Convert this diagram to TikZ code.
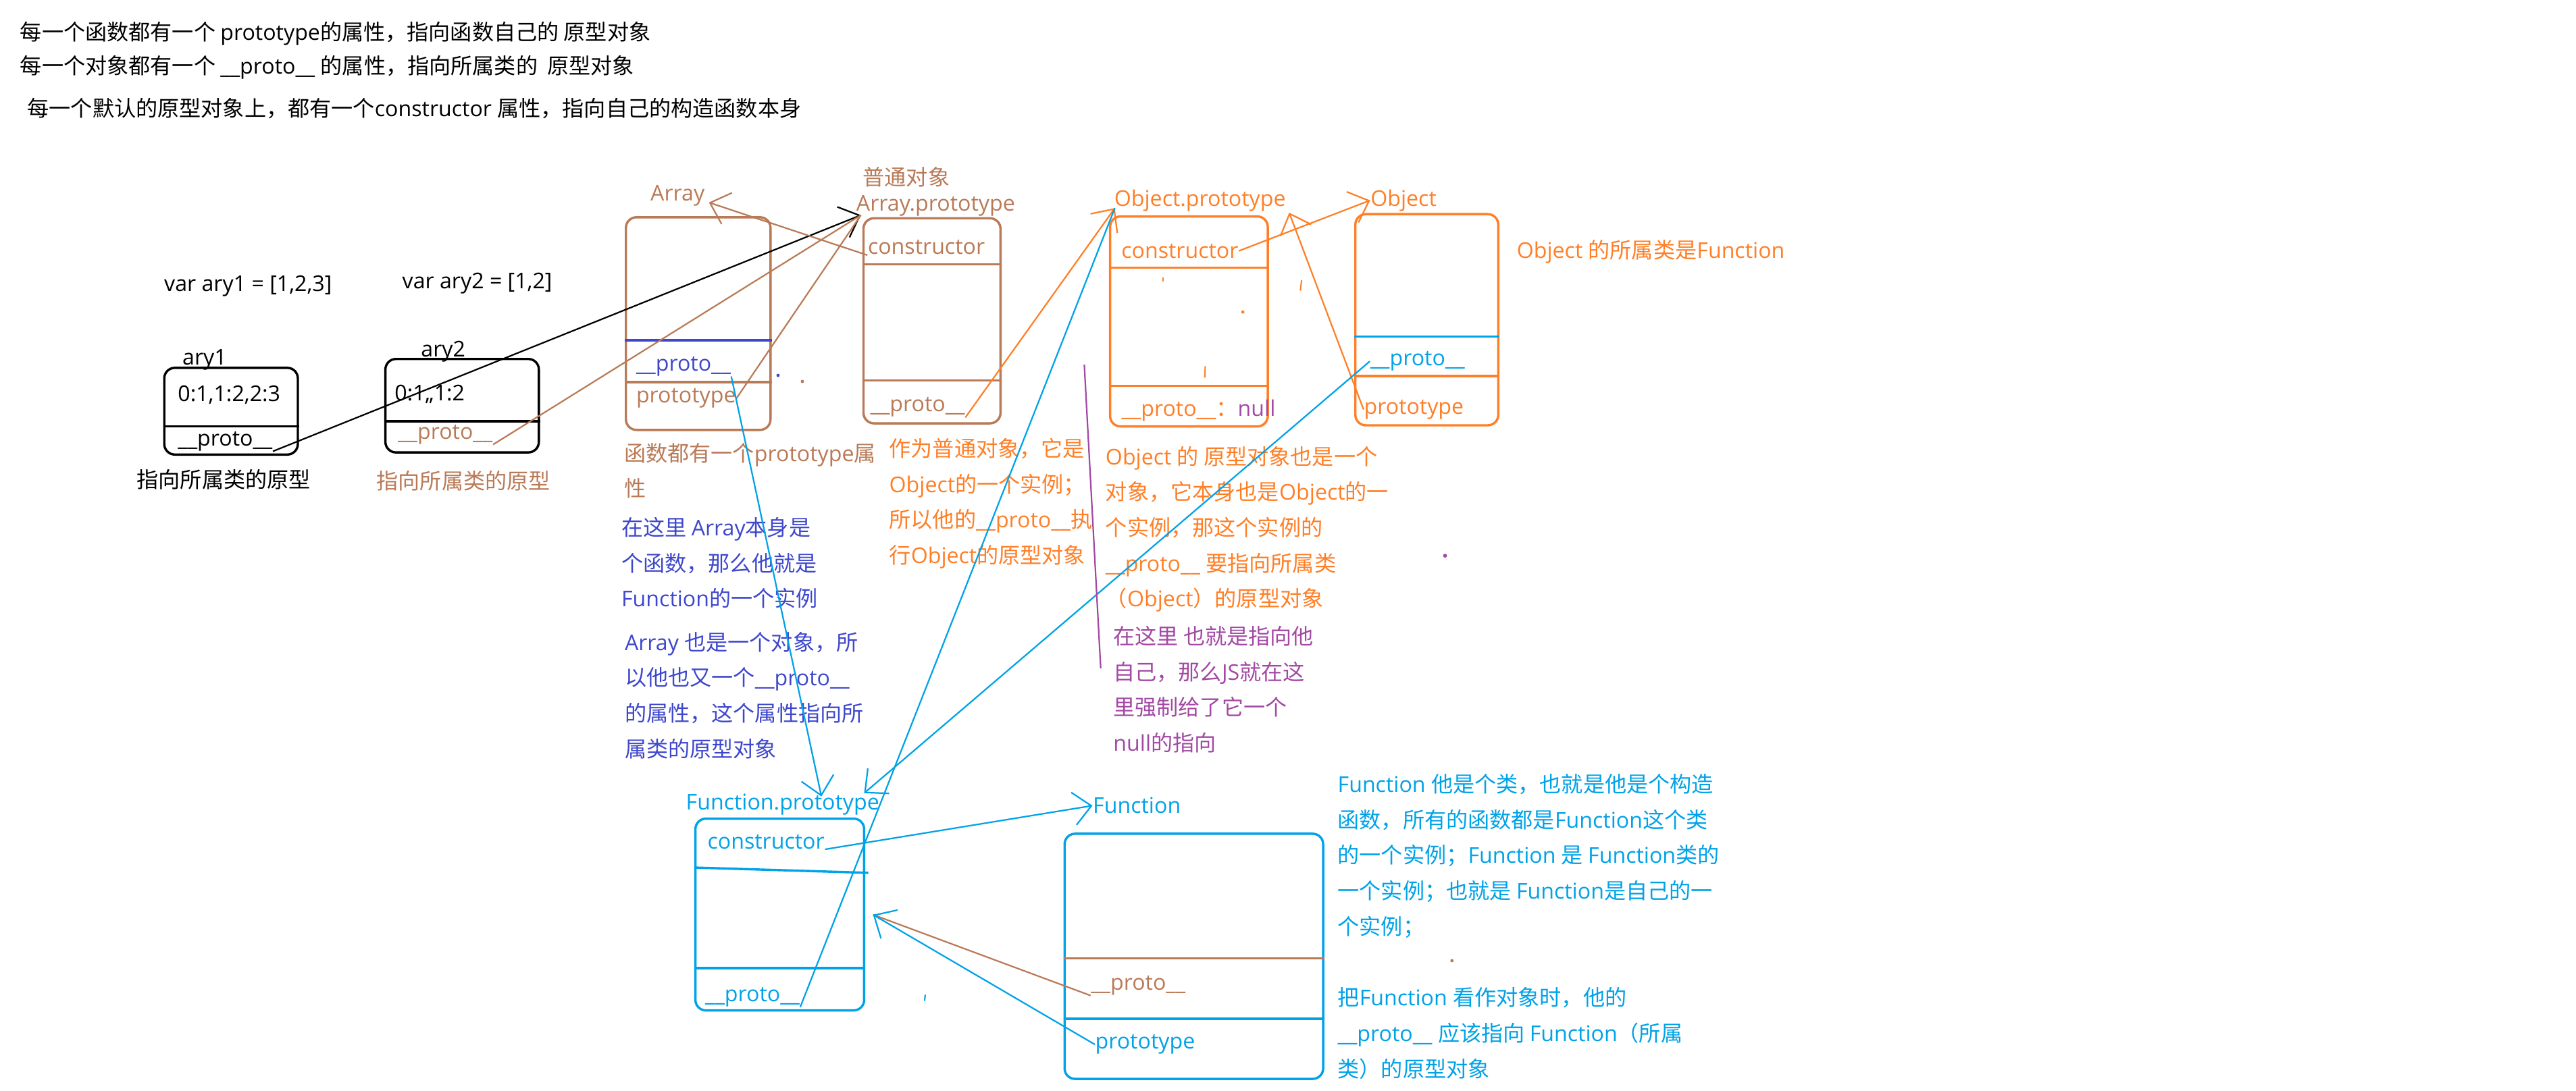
\documentclass[tikz,border=0pt]{standalone}
\usepackage{fontspec}
\setmainfont{Open Sans}
\newfontfamily\cjkfont{Noto Sans CJK SC}
\usepackage{tikz}
\usetikzlibrary{arrows.meta, fit}
\usepackage{xcolor}
\definecolor{Brn}{HTML}{B97A57}
\definecolor{Org}{HTML}{FF7F27}
\definecolor{Blu}{HTML}{00A2E8}
\definecolor{Ind}{HTML}{3F48CC}
\definecolor{Pur}{HTML}{A349A4}

% Chinese characters and full-width punctuation in the CJK face
\XeTeXinterchartokenstate=1
\newXeTeXintercharclass\hanclass
\newcount\hancount
\def\sethanrange#1#2{\hancount=#1\relax
  \loop\XeTeXcharclass\hancount=\hanclass
  \ifnum\hancount<#2\relax\advance\hancount by 1\repeat}
\sethanrange{"3000}{"303F}
\sethanrange{"4E00}{"9FFF}
\sethanrange{"FF00}{"FFEF}
\XeTeXinterchartoks 0 \hanclass = {\cjkfont}
\XeTeXinterchartoks 4095 \hanclass = {\cjkfont}
\XeTeXinterchartoks \hanclass 0 = {\rmfamily}
\XeTeXinterchartoks 4095 0 = {\rmfamily}

\tikzset{
  txt/.style={inner sep=0pt, anchor=west},
  para/.style={inner sep=0pt, anchor=north west, align=left},
  objbox/.style={draw=#1, line width=1pt, rounded corners=1.6mm, inner sep=0pt},
  rowline/.style={draw=#1, line width=1pt},
  link/.style={line width=0.65pt},
  arrowv/.style={-{Straight Barb[length=2.7mm, width=5mm]}}
}

\begin{document}
\begin{tikzpicture}[x=0.25mm, y=-0.25mm, font=\fontsize{9.4pt}{15.4pt}\selectfont]
\path[fill=white] (0,0) rectangle (1568,664);
\useasboundingbox (0,0) rectangle (1568,664);

% rules at the top
\node[txt] (rule1) at (12,20.6) {每一个函数都有一个 prototype的属性，指向函数自己的 原型对象};
\node[txt] (rule2) at (12,41) {每一个对象都有一个 \_\_proto\_\_ 的属性，指向所属类的\ \ 原型对象};
\node[txt] (rule3) at (16.4,66) {每一个默认的原型对象上，都有一个constructor 属性，指向自己的构造函数本身};

% ary1 and ary2
\node[txt] (decl1) at (99.7,174) {var ary1 = [1,2,3]};
\node[txt] (decl2) at (244.6,172.7) {var ary2 = [1,2]};
\node[objbox=black, fit={(100,224) (181.3,276.8)}] (ary1) {};
\draw[rowline=black] (ary1.west |- 0,259.7) -- (ary1.east |- 0,259.7);
\node[txt] (ary1name) at (110.8,219) {ary1};
\node[txt] (a1data) at (108,240.5) {0:1,1:2,2:3};
\node[txt] (a1proto) at (108,268.6) {\_\_proto\_\_};
\node[txt] (a1note) at (83,292) {指向所属类的原型};

\node[objbox=black, fit={(234.6,218.6) (328,275.5)}] (ary2) {};
\draw[rowline=black] (ary2.west |- 0,256.6) -- (ary2.east |- 0,256.6);
\node[txt] (ary2name) at (256,214) {ary2};
\node[txt] (a2data) at (240,240) {0:1,,1:2};
\node[txt, text=Brn] (a2proto) at (242,264.5) {\_\_proto\_\_};
\node[txt, text=Brn] (a2note) at (229,293) {指向所属类的原型};

% Array and Array.prototype
\node[txt, text=Brn] (arrname) at (395.7,119) {Array};
\node[objbox=Brn, fit={(381,132.3) (469,261.8)}] (arrbox) {};
\draw[rowline=Ind] (arrbox.west |- 0,207.2) -- (arrbox.east |- 0,207.2);
\draw[rowline=Brn] (arrbox.west |- 0,232.7) -- (arrbox.east |- 0,232.7);
\node[txt, text=Ind] (arrproto) at (387,223) {\_\_proto\_\_};
\node[txt, text=Brn] (arrtype) at (387,242.6) {prototype};

\node[txt, text=Brn] (plain) at (525,108) {普通对象};
\node[txt, text=Brn] (apname) at (521,125.4) {Array.prototype};
\node[objbox=Brn, fit={(525.6,132.9) (609,257.8)}] (apbox) {};
\draw[rowline=Brn] (apbox.west |- 0,161) -- (apbox.east |- 0,161);
\draw[rowline=Brn] (apbox.west |- 0,231.6) -- (apbox.east |- 0,231.6);
\node[txt, text=Brn] (apcons) at (528,150.7) {constructor};
\node[txt, text=Brn] (approto) at (529.5,248) {\_\_proto\_\_};

\node[para, text=Brn] (arrnote) at (379.6,269.5) {函数都有一个prototype属\\性};
\node[para, text=Ind] (arrfn) at (378,314.7) {在这里 Array本身是\\个函数，那么他就是\\Function的一个实例};
\node[para, text=Ind] (arrobj) at (380,384.6) {Array 也是一个对象，所\\以他也又一个\_\_proto\_\_\\的属性，这个属性指向所\\属类的原型对象};
\node[para, text=Org] (apnote) at (541,266.7) {作为普通对象，它是\\Object的一个实例；\\所以他的\_\_proto\_\_执\\行Object的原型对象};

% Object.prototype and Object
\node[txt, text=Org] (opname) at (678,122) {Object.prototype};
\node[objbox=Org, fit={(675.7,131.8) (771.7,259.7)}] (opbox) {};
\draw[rowline=Org] (opbox.west |- 0,163) -- (opbox.east |- 0,163);
\draw[rowline=Org] (opbox.west |- 0,235) -- (opbox.east |- 0,235);
\node[txt, text=Org] (opcons) at (682.3,152.8) {constructor};
\node[txt, text=Org] (opnull) at (682.4,250) {\_\_proto\_\_：\textcolor{Pur}{null}};

\node[txt, text=Org] (objname) at (834,122) {Object};
\node[objbox=Org, fit={(825,130.4) (912,259)}] (objbox) {};
\draw[rowline=Blu] (objbox.west |- 0,205) -- (objbox.east |- 0,205);
\draw[rowline=Org] (objbox.west |- 0,229) -- (objbox.east |- 0,229);
\node[txt, text=Blu] (oproto) at (833.8,220) {\_\_proto\_\_};
\node[txt, text=Org] (otype) at (830,249.4) {prototype};
\node[txt, text=Org] (objnote) at (923,153.4) {Object 的所属类是Function};

\node[para, text=Org] (opnote) at (672.7,271.5) {Object 的 原型对象也是一个\\对象，它本身也是Object的一\\个实例，那这个实例的\\\_\_proto\_\_ 要指向所属类\\（Object）的原型对象};
\node[para, text=Pur] (nullnote) at (677.4,381) {在这里 也就是指向他\\自己，那么JS就在这\\里强制给了它一个\\null的指向};

% Function.prototype and Function
\node[txt, text=Blu] (fpname) at (417.3,490) {Function.prototype};
\node[objbox=Blu, fit={(423.3,498.5) (526,615.3)}] (fpbox) {};
\draw[rowline=Blu] (fpbox.west |- 0,528.3) -- (528.5,531.5);
\draw[rowline=Blu] (fpbox.west |- 0,589.6) -- (fpbox.east |- 0,589.6);
\node[txt, text=Blu] (fpcons) at (430.4,512.5) {constructor};
\node[txt, text=Blu] (fpproto) at (429,607) {\_\_proto\_\_};

\node[txt, text=Blu] (fnname) at (665,490.6) {Function};
\node[objbox=Blu, fit={(648,507.7) (805.4,657)}] (fnbox) {};
\draw[rowline=Brn] (fnbox.west |- 0,583.5) -- (fnbox.east |- 0,583.5);
\draw[rowline=Blu] (fnbox.west |- 0,620.4) -- (fnbox.east |- 0,620.4);
\node[txt, text=Brn] (fnproto) at (663.8,600) {\_\_proto\_\_};
\node[txt, text=Blu] (fntype) at (666.4,636) {prototype};

\node[para, text=Blu] (fnnote) at (814,471) {Function 他是个类，也就是他是个构造\\函数，所有的函数都是Function这个类\\的一个实例；Function 是 Function类的\\一个实例；也就是 Function是自己的一\\个实例；};
\node[para, text=Blu] (fnobj) at (814,601) {把Function 看作对象时，他的\\\_\_proto\_\_ 应该指向 Function（所属\\类）的原型对象};

% arrow tips
\coordinate (tAP) at (524,131);
\coordinate (tArr) at (431.5,123.3);
\coordinate (tOPl) at (678.6,126.7);
\coordinate (tOPr) at (784.7,129.5);
\coordinate (tFP1) at (500,485);
\coordinate (tFP2) at (526,483);
\coordinate (tFPr) at (531.4,557);
\coordinate (pTop) at (660,222);
\coordinate (pBot) at (670,407);

% connectors
\draw[link, arrowv, black] (a1proto.south east) -- (tAP);
\draw[link, Brn] (a2proto.south east) -- (tAP);
\draw[link, Brn] (arrtype.east) -- (tAP);
\draw[link, arrowv, Brn] (apcons.south west) -- (tArr);
\draw[link, arrowv, Org] (approto.south east) -- (tOPl);
\draw[link, arrowv, Org] (opcons.east) -- (objname.west);
\draw[link, arrowv, Org] (otype.west) -- (tOPr);
\draw[link, arrowv, Blu] (arrproto.south east) -- (tFP1);
\draw[link, arrowv, Blu] (oproto.west) -- (tFP2);
\draw[link, Blu] (fpproto.south east) -- (tOPl);
\draw[link, arrowv, Blu] (fpcons.south east) -- (fnname.west);
\draw[link, Brn] (fnproto.south west) -- (tFPr);
\draw[link, arrowv, Blu] (fntype.west) -- (tFPr);
\draw[link, Pur] (pTop) -- (pBot);

% stray pen marks
\fill[Ind] (473.6,228.6) circle (0.25mm);
\fill[Brn] (488.4,232.3) circle (0.25mm);
\draw[Org, line width=0.6pt] (708,169) -- (708,171.5);
\fill[Org] (756.5,190) circle (0.25mm);
\draw[Org, line width=0.6pt] (733.6,223) -- (733.4,230);
\draw[Org, line width=0.6pt] (792.3,170.5) -- (791.5,177);
\fill[Pur] (879.6,338.4) circle (0.3mm);
\draw[Blu, line width=0.6pt] (563.2,605.7) -- (562.8,609.5);
\fill[Brn] (883.8,585) circle (0.25mm);
\end{tikzpicture}
\end{document}
